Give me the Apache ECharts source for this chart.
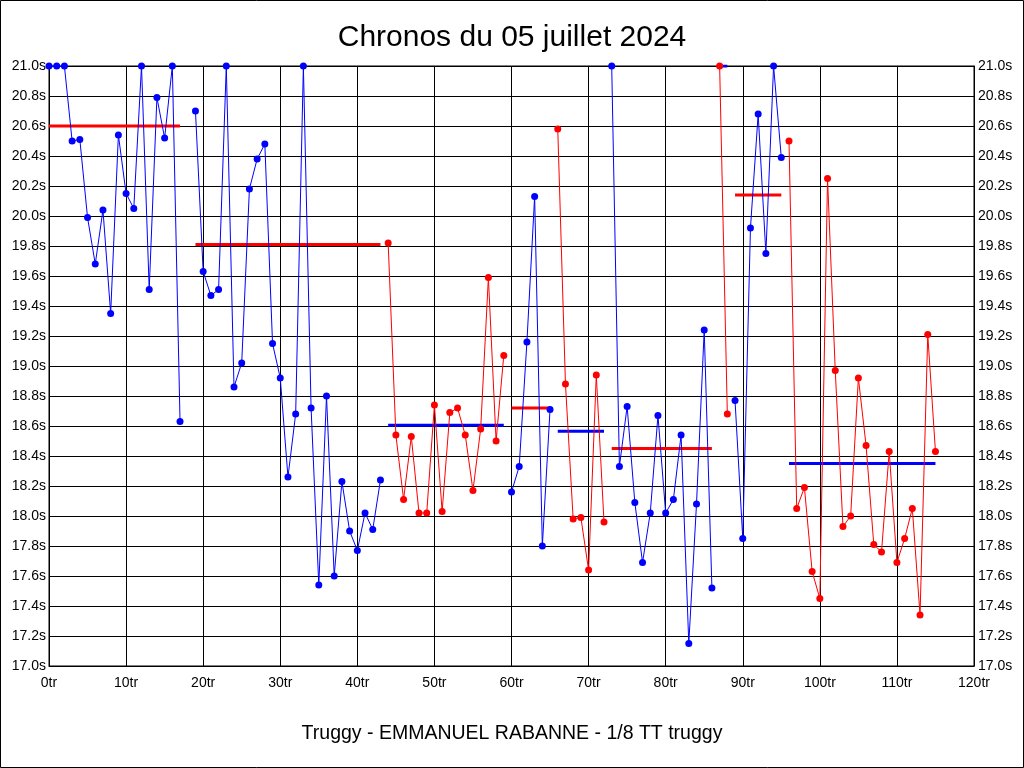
<!DOCTYPE html>
<html>
<head>
<meta charset="utf-8">
<script src="https://cdn.jsdelivr.net/npm/echarts@6/dist/echarts.min.js"></script>
<style>
html,body{margin:0;padding:0;background:#fff;}
#c{width:1024px;height:768px;}
</style>
</head>
<body>
<div id="c"></div>
<script>
// Lap times (seconds), index = lap number; null = no lap recorded
var lapTimes = [
  21.0, 21.0, 21.0, 20.50, 20.51, 19.99, 19.68, 20.04, 19.35, 20.54,
  20.15, 20.05, 21.0, 19.51, 20.79, 20.52, 21.0, 18.63, null, 20.70,
  19.63, 19.47, 19.51, 21.0, 18.86, 19.02, 20.18, 20.38, 20.48, 19.15,
  18.92, 18.26, 18.68, 21.0, 18.72, 17.54, 18.80, 17.60, 18.23, 17.90,
  17.77, 18.02, 17.91, 18.24, 19.82, 18.54, 18.11, 18.53, 18.02, 18.02,
  18.74, 18.03, 18.69, 18.72, 18.54, 18.17, 18.58, 19.59, 18.50, 19.07,
  18.16, 18.33, 19.16, 20.13, 17.80, 18.71, 20.58, 18.88, 17.98, 17.99,
  17.64, 18.94, 17.96, 21.0, 18.33, 18.73, 18.09, 17.69, 18.02, 18.67,
  18.02, 18.11, 18.54, 17.15, 18.08, 19.24, 17.52, 21.0, 18.68, 18.77,
  17.85, 19.92, 20.68, 19.75, 21.0, 20.39, 20.50, 18.05, 18.19, 17.63,
  17.45, 20.25, 18.97, 17.93, 18.00, 18.92, 18.47, 17.81, 17.76, 18.43,
  17.69, 17.85, 18.05, 17.34, 19.21, 18.43
];
// Stints: first lap, last lap, colour of points, average time
var stintStart = [0, 19, 44, 60, 66, 73, 87, 89, 96];
var stintEnd   = [17, 43, 59, 65, 72, 86, 88, 95, 115];
var stintColor = ['blue','blue','red','blue','red','blue','red','blue','red'];
var stintAvg   = [20.60, 19.81, 18.605, 18.72, 18.565, 18.45, 21.0, 20.14, 18.35];
var xTicks = { min: 0, max: 120, interval: 10, suffix: 'tr' };
var yTicks = { min: 17.0, max: 21.0, interval: 0.2, suffix: 's' };

var colorMap = { blue: '#0000ff', red: '#ff0000' };
var series = [];
for (var s = 0; s < stintStart.length; s++) {
  var pts = [];
  for (var l = stintStart[s]; l <= stintEnd[s]; l++) {
    if (lapTimes[l] !== null) pts.push([l, lapTimes[l]]);
  }
  var c = colorMap[stintColor[s]];
  var avgC = stintColor[s] === 'blue' ? colorMap.red : colorMap.blue;
  series.push({
    type: 'line',
    data: [[stintStart[s], stintAvg[s]], [stintEnd[s], stintAvg[s]]],
    symbol: 'none',
    lineStyle: { color: avgC, width: 3 },
    z: 2,
    silent: true
  });
  series.push({
    type: 'line',
    data: pts,
    symbol: 'circle',
    symbolSize: 7,
    itemStyle: { color: c },
    lineStyle: { color: c, width: 1 },
    z: 3,
    silent: true
  });
}

var labelFont = { color: '#000', fontSize: 14, fontFamily: 'Liberation Sans, Arial, sans-serif' };
var chart = echarts.init(document.getElementById('c'), null, { renderer: 'canvas' });
chart.setOption({
  backgroundColor: '#fff',
  animation: false,
  title: {
    text: 'Chronos du 05 juillet 2024',
    left: 'center',
    top: 18,
    textStyle: { color: '#000', fontSize: 30, fontWeight: 'normal', fontFamily: 'Liberation Sans, Arial, sans-serif' }
  },
  grid: { left: 49, right: 50, top: 66, bottom: 102, show: true, borderColor: '#000', borderWidth: 1, backgroundColor: 'transparent' },
  xAxis: {
    type: 'value',
    min: xTicks.min, max: xTicks.max, interval: xTicks.interval,
    axisLine: { show: true, lineStyle: { color: '#000', width: 1 } },
    axisTick: { show: false },
    splitLine: { show: true, lineStyle: { color: '#000', width: 1 } },
    axisLabel: Object.assign({ margin: 10, formatter: function (v) { return v + xTicks.suffix; } }, labelFont)
  },
  yAxis: [
    {
      type: 'value', position: 'left',
      min: yTicks.min, max: yTicks.max, interval: yTicks.interval,
      axisLine: { show: true, lineStyle: { color: '#000', width: 1 } },
      axisTick: { show: false },
      splitLine: { show: true, lineStyle: { color: '#000', width: 1 } },
      axisLabel: Object.assign({ margin: 3, formatter: function (v) { return v.toFixed(1) + yTicks.suffix; } }, labelFont)
    },
    {
      type: 'value', position: 'right',
      min: yTicks.min, max: yTicks.max, interval: yTicks.interval,
      axisLine: { show: true, lineStyle: { color: '#000', width: 1 } },
      axisTick: { show: false },
      splitLine: { show: false },
      axisLabel: Object.assign({ margin: 4, formatter: function (v) { return v.toFixed(1) + yTicks.suffix; } }, labelFont)
    }
  ],
  graphic: [
    { type: 'rect', shape: { x: 0.5, y: 0.5, width: 1023, height: 767 }, style: { fill: 'none', stroke: '#000', lineWidth: 1 }, silent: true },
    { type: 'text', left: 'center', top: 724, style: { text: 'Truggy - EMMANUEL RABANNE - 1/8 TT truggy', fill: '#000', fontSize: 19.5, fontFamily: 'Liberation Sans, Arial, sans-serif' }, silent: true }
  ],
  series: series
});
</script>
</body>
</html>
